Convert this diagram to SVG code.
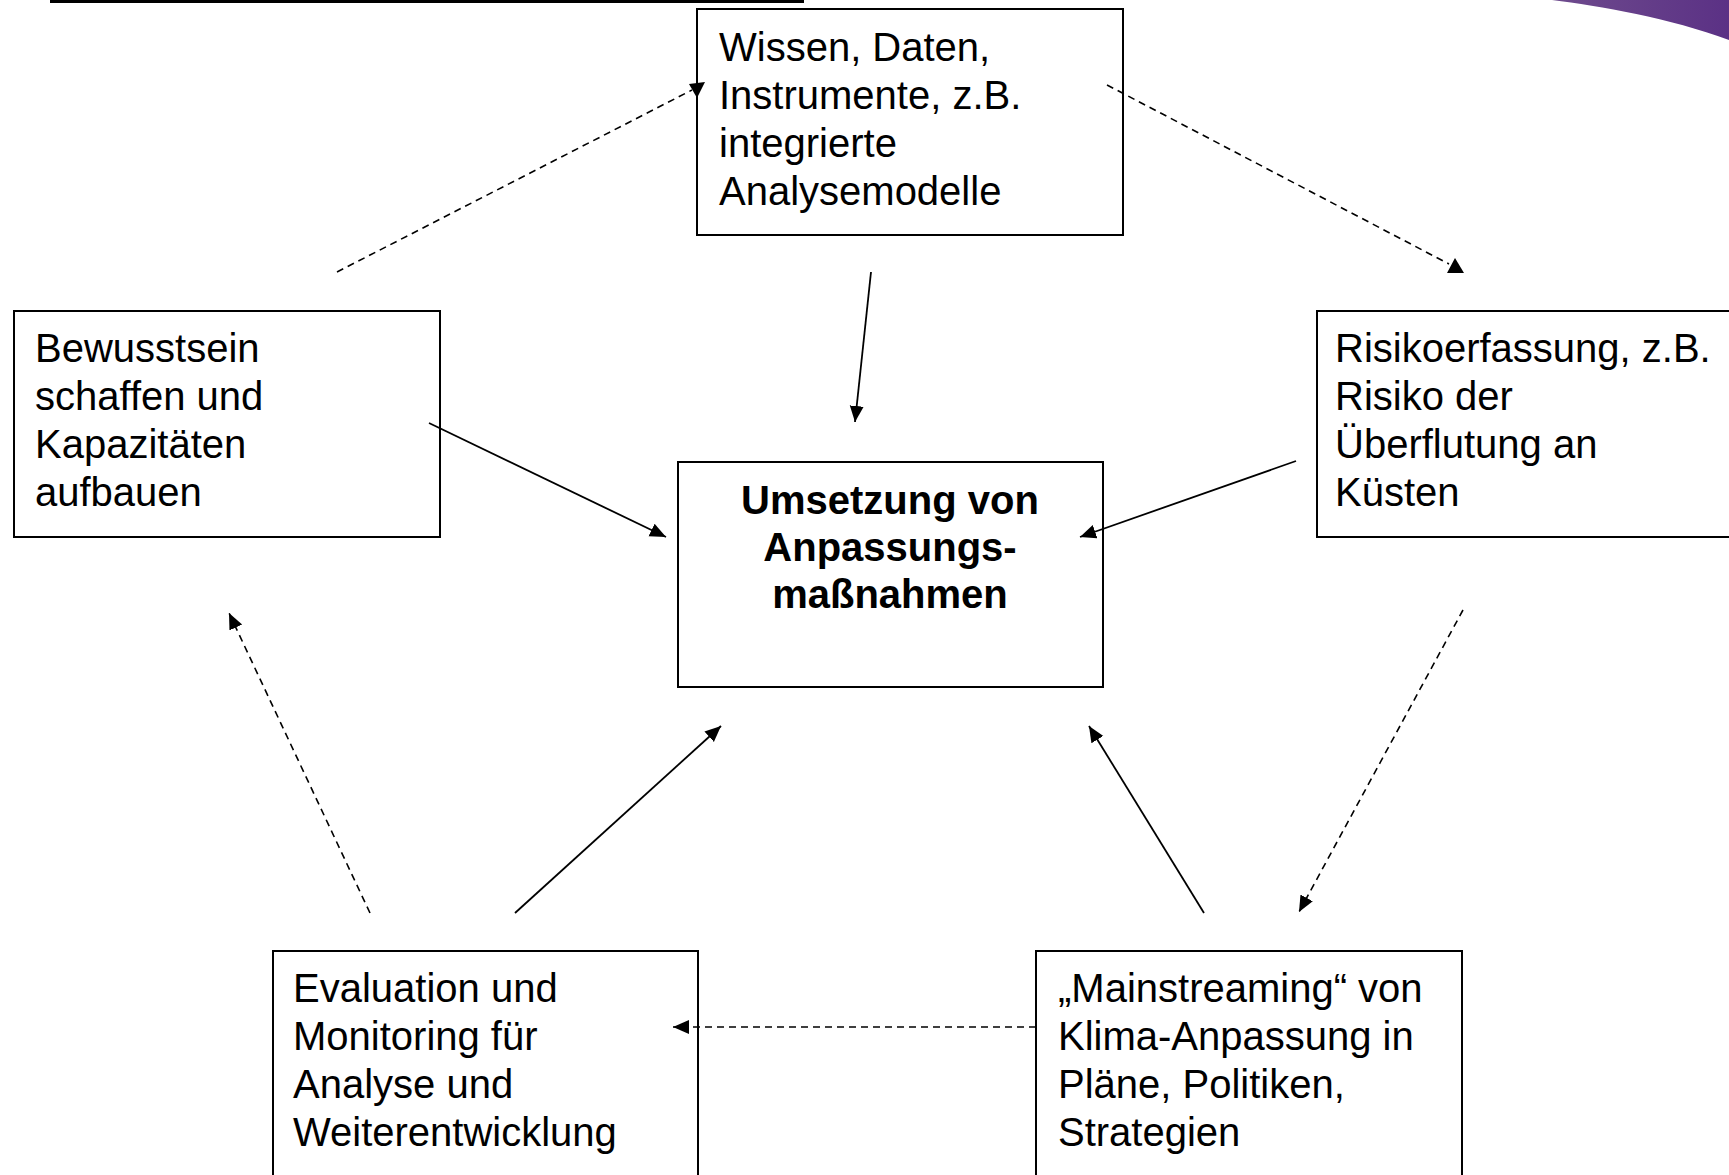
<svg xmlns="http://www.w3.org/2000/svg" width="1729" height="1175" viewBox="0 0 1729 1175">
<style>
.box{fill:#fff;stroke:#000;stroke-width:2}
.t{font-family:"Liberation Sans",Arial,sans-serif;font-size:40px;fill:#000}
.b{font-weight:bold;text-anchor:middle}
.s{stroke:#000;stroke-width:1.8;fill:none}
.d{stroke:#000;stroke-width:1.6;fill:none;stroke-dasharray:7 5}
</style>
<defs>
<linearGradient id="pg" x1="0" y1="0" x2="1" y2="0">
<stop offset="0" stop-color="#6e4b8d"/>
<stop offset="1" stop-color="#5b3185"/>
</linearGradient>
<marker id="ah" markerUnits="userSpaceOnUse" markerWidth="18" markerHeight="16" refX="16" refY="7" orient="auto">
<path d="M0,0 L16,7 L0,14 Z" fill="#000"/>
</marker>
</defs>
<rect x="0" y="0" width="1729" height="1175" fill="#fff"/>
<rect x="50" y="0" width="754" height="3" fill="#000"/>
<path d="M1552,0 C1600,6 1670,18 1729,40 L1729,0 Z" fill="url(#pg)"/>

<g id="node-wissen">
<rect class="box" x="697" y="9" width="426" height="226"/>
<text class="t" x="719" y="61">Wissen, Daten,</text>
<text class="t" x="719" y="109">Instrumente, z.B.</text>
<text class="t" x="719" y="157">integrierte</text>
<text class="t" x="719" y="205">Analysemodelle</text>
</g>

<g id="node-bewusstsein">
<rect class="box" x="14" y="311" width="426" height="226"/>
<text class="t" x="35" y="362">Bewusstsein</text>
<text class="t" x="35" y="410">schaffen und</text>
<text class="t" x="35" y="458">Kapazitäten</text>
<text class="t" x="35" y="506">aufbauen</text>
</g>

<g id="node-risiko">
<rect class="box" x="1317" y="311" width="500" height="226"/>
<text class="t" x="1335" y="362">Risikoerfassung, z.B.</text>
<text class="t" x="1335" y="410">Risiko der</text>
<text class="t" x="1335" y="458">Überflutung an</text>
<text class="t" x="1335" y="506">Küsten</text>
</g>

<g id="node-umsetzung">
<rect class="box" x="678" y="462" width="425" height="225"/>
<text class="t b" x="890" y="514">Umsetzung von</text>
<text class="t b" x="890" y="561">Anpassungs-</text>
<text class="t b" x="890" y="608">maßnahmen</text>
</g>

<g id="node-evaluation">
<rect class="box" x="273" y="951" width="425" height="300"/>
<text class="t" x="293" y="1002">Evaluation und</text>
<text class="t" x="293" y="1050">Monitoring für</text>
<text class="t" x="293" y="1098">Analyse und</text>
<text class="t" x="293" y="1146">Weiterentwicklung</text>
</g>

<g id="node-mainstreaming">
<rect class="box" x="1036" y="951" width="426" height="300"/>
<text class="t" x="1058" y="1002">„Mainstreaming“ von</text>
<text class="t" x="1058" y="1050">Klima-Anpassung in</text>
<text class="t" x="1058" y="1098">Pläne, Politiken,</text>
<text class="t" x="1058" y="1146">Strategien</text>
</g>

<g id="connectors">
<line class="d" x1="337" y1="272" x2="692" y2="90"/>
<polygon points="689,84 705,82 697,98" fill="#000"/>
<line class="d" x1="1107" y1="85" x2="1449" y2="264"/>
<polygon points="1455,258 1464,273 1447,273" fill="#000"/>
<line class="s" x1="871" y1="272" x2="855" y2="422" marker-end="url(#ah)"/>
<line class="s" x1="429" y1="423" x2="666" y2="537" marker-end="url(#ah)"/>
<line class="s" x1="1296" y1="461" x2="1080" y2="537" marker-end="url(#ah)"/>
<line class="d" x1="1463" y1="610" x2="1299" y2="912" marker-end="url(#ah)"/>
<line class="s" x1="1204" y1="913" x2="1089" y2="726" marker-end="url(#ah)"/>
<line class="s" x1="515" y1="913" x2="721" y2="726" marker-end="url(#ah)"/>
<line class="d" x1="370" y1="913" x2="229" y2="613" marker-end="url(#ah)"/>
<line class="d" x1="1036" y1="1027" x2="673" y2="1027" marker-end="url(#ah)"/>
</g>
</svg>
